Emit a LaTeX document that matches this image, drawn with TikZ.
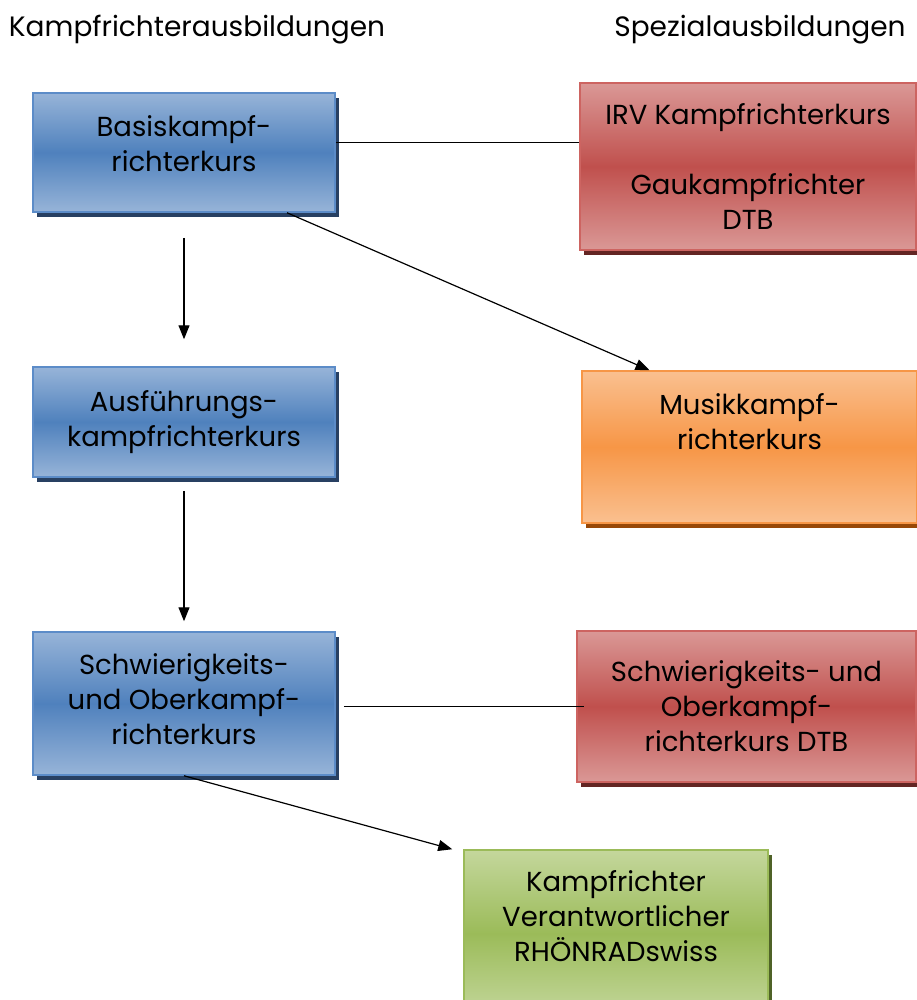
\documentclass[tikz,border=0pt]{standalone}
\usepackage{fontspec}
\setmainfont{Poppins}
\usepackage{tikz}
\usetikzlibrary{arrows.meta}
\usetikzlibrary{shadows}

\definecolor{blauhell}{RGB}{151,180,216}
\definecolor{blaumitte}{RGB}{79,129,189}
\definecolor{blaurand}{RGB}{92,140,200}
\definecolor{blauschatten}{RGB}{40,64,98}
\definecolor{rothell}{RGB}{218,152,150}
\definecolor{rotmitte}{RGB}{192,80,77}
\definecolor{rotrand}{RGB}{205,100,97}
\definecolor{rotschatten}{RGB}{99,37,35}
\definecolor{orhell}{RGB}{250,192,144}
\definecolor{ormitte}{RGB}{247,150,70}
\definecolor{orschatten}{RGB}{152,72,7}
\definecolor{gruenhell}{RGB}{196,215,156}
\definecolor{gruenmitte}{RGB}{155,187,89}
\definecolor{gruenschatten}{RGB}{79,98,40}

\tikzset{
    kurs/.style={rectangle,line width=1.5pt,align=center,inner sep=0pt,
        font=\fontsize{27.5}{35}\selectfont},
    blau/.style={kurs,draw=blaurand,top color=blauhell,bottom color=blauhell,middle color=blaumitte,
        drop shadow={shadow xshift=4pt,shadow yshift=-5pt,fill=blauschatten,opacity=1},
        minimum width=302pt},
    rot/.style={kurs,draw=rotrand,top color=rothell,bottom color=rothell,middle color=rotmitte,
        drop shadow={shadow xshift=4pt,shadow yshift=-5pt,fill=rotschatten,opacity=1}},
    orangebox/.style={kurs,draw=ormitte,top color=orhell,bottom color=orhell,middle color=ormitte,
        drop shadow={shadow xshift=4pt,shadow yshift=-5pt,fill=orschatten,opacity=1}},
    gruen/.style={kurs,draw=gruenmitte,top color=gruenhell,bottom color=gruenhell,middle color=gruenmitte,
        drop shadow={shadow xshift=4pt,shadow yshift=-5pt,fill=gruenschatten,opacity=1}},
    titel/.style={font=\fontsize{28}{32}\selectfont,inner sep=0pt},
    pfeil/.style={-{Triangle[length=14pt,width=11pt]},line width=1.2pt},
}

\begin{document}
\begin{tikzpicture}[x=1pt,y=-1pt]
    \useasboundingbox (0,0) rectangle (917,1000);

    % 見出し
    \node[titel] (kampf) at (197,30) {Kampfrichterausbildungen};
    \node[titel] (spezial) at (760,30) {Spezialausbildungen};

    % 左の列
    \node[blau,minimum height=119pt] (basis) at (184,152.5) {Basiskampf-\\richterkurs\\[-16pt]\mbox{}};
    \node[blau,minimum height=110pt] (ausf) at (184,422) {Ausführungs-\\kampfrichterkurs};
    \node[blau,minimum height=143pt] (schwer) at (184,703.5) {Schwierigkeits-\\und Oberkampf-\\richterkurs\\[-26pt]\mbox{}};

    % 右の列
    \node[rot,minimum width=336pt,minimum height=167pt] (irv) at (748,166.5)
        {IRV Kampfrichterkurs\\[35pt]Gaukampfrichter\\DTB};
    \node[orangebox,minimum width=335pt,minimum height=152pt] (musik) at (749.5,447)
        {Musikkampf-\\richterkurs\\[16pt]\mbox{}};
    \node[rot,minimum width=339pt,minimum height=151pt] (schwerdtb) at (746.5,706.5)
        {Schwierigkeits- und\\Oberkampf-\\richterkurs DTB};
    \node[gruen,minimum width=304pt,minimum height=167pt] (rhoen) at (616,933.5)
        {Kampfrichter\\Verantwortlicher\\RHÖNRADswiss\\\mbox{}};

    % 線と矢印
    \draw[line width=1.2pt] ([yshift=10pt]basis.east) -- ([yshift=10pt]basis.east -| irv.west);
    \draw[pfeil] ([xshift=103pt]basis.south) -- ([xshift=-100pt]musik.north);
    \draw[pfeil,shorten <=25pt,shorten >=27pt] (basis) -- (ausf);
    \draw[pfeil,shorten <=13pt,shorten >=10pt] (ausf) -- (schwer);
    \draw[line width=1.2pt] ([xshift=8pt]schwer.east |- schwerdtb.west) -- ([xshift=8pt]schwerdtb.west);
    \draw[pfeil] (schwer.south) -- ([xshift=-11pt]rhoen.north west);

\end{tikzpicture}
\end{document}
